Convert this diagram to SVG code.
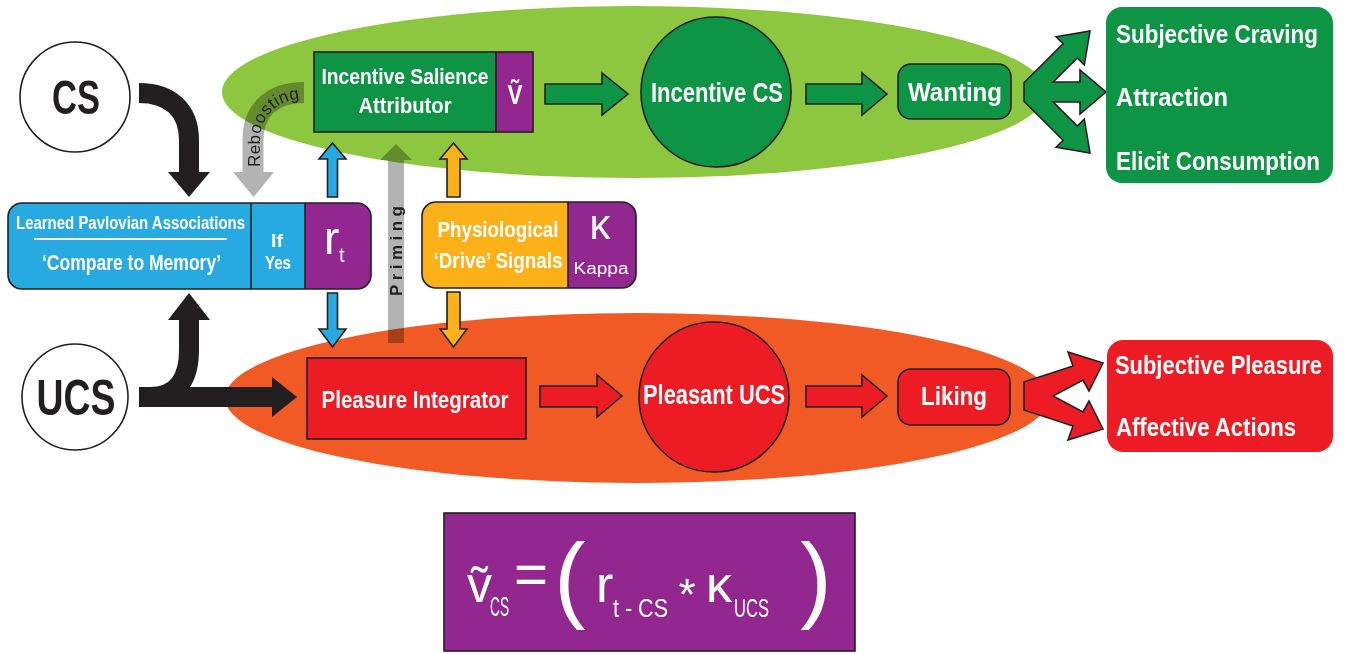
<svg xmlns="http://www.w3.org/2000/svg" width="1351" height="654" viewBox="0 0 1351 654">
<defs>
<style>
.t{font-family:"Liberation Sans",Arial,sans-serif;font-weight:bold;fill:#fff}
.r{font-family:"Liberation Sans",Arial,sans-serif;font-weight:normal;fill:#fff}
.k{font-family:"Liberation Sans",Arial,sans-serif;fill:#231f20}
.ol{stroke:#231f20;stroke-width:1.6}
.dg{fill:#0d9444}
.pu{fill:#92278f}
.rd{fill:#ed1c24}
.bl{fill:#27aae1}
.yl{fill:#fbb117}
.blk{fill:none;stroke:#231f20;stroke-width:20}
.gry{mix-blend-mode:multiply}
</style>
<clipPath id="cpBlue"><rect x="8" y="203" width="363" height="86" rx="14"/></clipPath>
<clipPath id="cpYel"><rect x="422" y="202" width="214" height="86" rx="14"/></clipPath>
<path id="rbPath" d="M260,174 L260,140 C260,117 277,98.5 306,98.5"/>
</defs>
<rect width="1351" height="654" fill="#fff"/>

<g id="wanting-zone"><ellipse cx="634" cy="92" rx="412" ry="86" fill="#8dc63f"/></g>
<g id="liking-zone"><ellipse cx="637" cy="398" rx="412" ry="85" fill="#f15a24"/></g>

<g id="connectors">
  <path class="blk" d="M139,93 C170,93 189,110 189,140 L189,174"/>
  <polygon fill="#231f20" points="168,172 210,172 189,197"/>
  <path class="blk" d="M139,397 L274,397"/>
  <polygon fill="#231f20" points="272,377 272,417 297,397"/>
  <path class="blk" d="M150,397 C178,397 189,378 189,350 L189,318"/>
  <polygon fill="#231f20" points="168,320 210,320 189,293"/>
  <g class="gry">
    <path d="M304,92.5 C272,92.5 253,110 253,140 L253,174" fill="none" stroke="#b3b3b3" stroke-width="21"/>
    <polygon fill="#b3b3b3" points="233,172 274,172 253.5,197"/>
  </g>
  <text class="k" font-size="17"><textPath href="#rbPath" startOffset="7" textLength="90" lengthAdjust="spacing">Reboosting</textPath></text>
  <g class="gry">
    <rect x="388" y="159" width="16" height="184" fill="#b3b3b3"/>
    <polygon fill="#b3b3b3" points="380,160 412,160 396,144"/>
  </g>
  <text class="k" font-size="17" font-weight="bold" text-anchor="middle" transform="translate(402,251) rotate(-90)" textLength="90" lengthAdjust="spacing">Priming</text>
  <polygon class="bl ol" points="327.5,197 327.5,159 319,159 332.5,143 346,159 337.5,159 337.5,197"/>
  <polygon class="bl ol" points="327.5,293 327.5,329 319,329 332.5,347 346,329 337.5,329 337.5,293"/>
  <polygon class="yl ol" points="447,197 447,159 440,159 453.5,143 467,159 460,159 460,197"/>
  <polygon class="yl ol" points="447,292 447,329 440,329 453.5,347 467,329 460,329 460,292"/>
  <polygon class="dg ol" points="545,84 602,84 602,73 628,94 602,115 602,104 545,104"/>
  <polygon class="dg ol" points="806,84 862,84 862,73 887,94 862,115 862,104 806,104"/>
  <polygon class="rd ol" points="540,386 597,386 597,375 622,396 597,417 597,407 540,407"/>
  <polygon class="rd ol" points="806,386 862,386 862,375 887,396 862,417 862,407 806,407"/>
  <polygon class="dg ol" points="1024,82.8 1063.1,43.7 1056.1,36.7 1090,31 1084.3,64.9 1077.3,57.9 1053.2,82 1080,82 1080,70 1106,92 1080,114 1080,102 1053.2,102 1077.3,126.1 1084.3,119.1 1090,153 1056.1,147.3 1063.1,140.3 1024,101.2"/>
  <polygon class="rd ol" points="1024,382 1073,366 1068,352 1103,363 1089,391 1083,380 1053,396 1083,412 1089,401 1103,429 1068,440 1073,426 1024,410"/>
</g>

<g id="cs">
  <circle cx="75" cy="97" r="55" fill="#fff" stroke="#231f20" stroke-width="1.6"/>
  <text class="k" font-weight="bold" font-size="48" text-anchor="middle" x="76" y="114" textLength="48" lengthAdjust="spacingAndGlyphs">CS</text>
</g>
<g id="ucs">
  <circle cx="75" cy="397" r="53" fill="#fff" stroke="#231f20" stroke-width="1.6"/>
  <text class="k" font-weight="bold" font-size="50" text-anchor="middle" x="76" y="415" textLength="79" lengthAdjust="spacingAndGlyphs">UCS</text>
</g>

<g id="incentive-salience-attributor">
  <rect class="dg ol" x="314" y="52" width="182" height="80"/>
  <rect class="pu ol" x="496" y="52" width="37" height="80"/>
  <text class="t" font-size="22" text-anchor="middle" x="405" y="84" textLength="167" lengthAdjust="spacingAndGlyphs">Incentive Salience</text>
  <text class="t" font-size="22" text-anchor="middle" x="405" y="113" textLength="93" lengthAdjust="spacingAndGlyphs">Attributor</text>
  <text class="t" font-size="28" text-anchor="middle" x="515" y="104" textLength="15" lengthAdjust="spacingAndGlyphs">Ṽ</text>
</g>

<g id="incentive-cs">
  <circle class="dg ol" cx="716" cy="92" r="75"/>
  <text class="t" font-size="27" text-anchor="middle" x="717" y="102" textLength="132" lengthAdjust="spacingAndGlyphs">Incentive CS</text>
</g>

<g id="wanting">
  <rect class="dg ol" x="898" y="64" width="113" height="55" rx="13"/>
  <text class="t" font-size="26" text-anchor="middle" x="955" y="101" textLength="94" lengthAdjust="spacingAndGlyphs">Wanting</text>
</g>

<g id="wanting-outputs">
  <rect class="dg" x="1106" y="7" width="227" height="176" rx="16"/>
  <text class="t" font-size="26" x="1116" y="43" textLength="202" lengthAdjust="spacingAndGlyphs">Subjective Craving</text>
  <text class="t" font-size="26" x="1116" y="106" textLength="112" lengthAdjust="spacingAndGlyphs">Attraction</text>
  <text class="t" font-size="26" x="1116" y="170" textLength="204" lengthAdjust="spacingAndGlyphs">Elicit Consumption</text>
</g>

<g id="pavlovian-associations">
  <g clip-path="url(#cpBlue)">
    <rect class="bl" x="8" y="203" width="297" height="86"/>
    <rect class="pu" x="305" y="203" width="66" height="86"/>
  </g>
  <rect x="8" y="203" width="363" height="86" rx="14" fill="none" class="ol"/>
  <line class="ol" x1="251" y1="203" x2="251" y2="289"/>
  <line class="ol" x1="305" y1="203" x2="305" y2="289"/>
  <text class="t" font-size="19" text-anchor="middle" x="130.5" y="229" textLength="229" lengthAdjust="spacingAndGlyphs">Learned Pavlovian Associations</text>
  <line x1="34" y1="239" x2="227" y2="239" stroke="#fff" stroke-width="2"/>
  <text class="t" font-size="22" text-anchor="middle" x="131.5" y="270" textLength="179" lengthAdjust="spacingAndGlyphs">‘Compare to Memory’</text>
  <text class="t" font-size="18" text-anchor="middle" x="277" y="247" textLength="12" lengthAdjust="spacingAndGlyphs">If</text>
  <text class="t" font-size="18" text-anchor="middle" x="278" y="269" textLength="26" lengthAdjust="spacingAndGlyphs">Yes</text>
  <text class="r" font-size="46" x="324" y="254">r</text>
  <text class="r" font-size="20" x="339" y="262">t</text>
</g>

<g id="physiological-drive">
  <g clip-path="url(#cpYel)">
    <rect class="yl" x="422" y="202" width="146" height="86"/>
    <rect class="pu" x="568" y="202" width="68" height="86"/>
  </g>
  <rect x="422" y="202" width="214" height="86" rx="14" fill="none" class="ol"/>
  <line class="ol" x1="568" y1="202" x2="568" y2="288"/>
  <text class="t" font-size="22" text-anchor="middle" x="498" y="237" textLength="121" lengthAdjust="spacingAndGlyphs">Physiological</text>
  <text class="t" font-size="22" text-anchor="middle" x="498" y="268" textLength="129" lengthAdjust="spacingAndGlyphs">‘Drive’ Signals</text>
  <text class="r" font-size="42" text-anchor="middle" x="600" y="239">κ</text>
  <text class="r" font-size="16" text-anchor="middle" x="601" y="274" textLength="55" lengthAdjust="spacingAndGlyphs">Kappa</text>
</g>

<g id="pleasure-integrator">
  <rect class="rd ol" x="307" y="358" width="219" height="81"/>
  <text class="t" font-size="24" text-anchor="middle" x="415" y="408" textLength="187" lengthAdjust="spacingAndGlyphs">Pleasure Integrator</text>
</g>

<g id="pleasant-ucs">
  <circle class="rd ol" cx="714" cy="397" r="75"/>
  <text class="t" font-size="27" text-anchor="middle" x="714" y="404" textLength="142" lengthAdjust="spacingAndGlyphs">Pleasant UCS</text>
</g>

<g id="liking">
  <rect class="rd ol" x="898" y="369" width="112" height="56" rx="13"/>
  <text class="t" font-size="26" text-anchor="middle" x="954" y="405" textLength="66" lengthAdjust="spacingAndGlyphs">Liking</text>
</g>

<g id="liking-outputs">
  <rect class="rd" x="1107" y="340" width="226" height="112" rx="16"/>
  <text class="t" font-size="25" x="1115" y="374" textLength="207" lengthAdjust="spacingAndGlyphs">Subjective Pleasure</text>
  <text class="t" font-size="26" x="1116" y="436" textLength="180" lengthAdjust="spacingAndGlyphs">Affective Actions</text>
</g>

<g id="formula">
  <rect class="pu ol" x="444" y="513" width="411" height="138"/>
  <text class="r" font-size="50" x="467" y="602">ṽ</text>
  <text class="r" font-size="27" x="490" y="616" textLength="19" lengthAdjust="spacingAndGlyphs">CS</text>
  <text class="r" font-size="58" text-anchor="middle" x="531" y="594" textLength="34" lengthAdjust="spacingAndGlyphs">=</text>
  <text class="r" font-size="94" text-anchor="middle" x="570" y="610">(</text>
  <text class="r" font-size="52" x="596" y="602">r</text>
  <text class="r" font-size="26" x="613" y="617" textLength="55" lengthAdjust="spacingAndGlyphs">t - CS</text>
  <text class="r" font-size="44" text-anchor="middle" x="687" y="610">*</text>
  <text class="r" font-size="52" x="706" y="602">κ</text>
  <text class="r" font-size="26" x="734" y="617" textLength="35" lengthAdjust="spacingAndGlyphs">UCS</text>
  <text class="r" font-size="94" text-anchor="middle" x="816" y="610">)</text>
</g>
</svg>
